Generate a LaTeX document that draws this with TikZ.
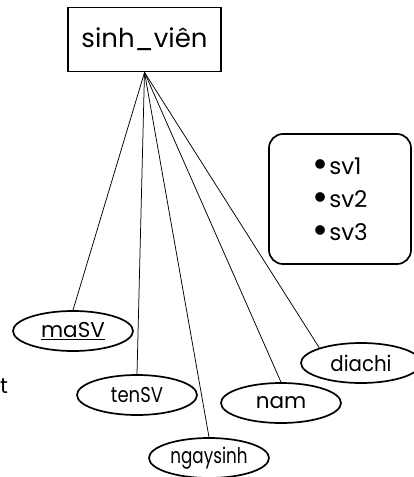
\documentclass[tikz,border=0pt]{standalone}
\usepackage{fontspec}
\setmainfont{Poppins}
\usetikzlibrary{shapes.geometric}
\tikzset{
  entity/.style={draw, line width=1.8pt, minimum width=153pt, minimum height=64pt, inner sep=0pt, font=\fontsize{26}{29}\selectfont},
  attr/.style={draw, ellipse, line width=1.7pt, minimum width=120pt, minimum height=40pt, inner sep=0pt, font=\fontsize{21.5}{24}\selectfont},
  inst/.style={draw, rounded corners=14pt, line width=1.7pt, minimum width=142pt, minimum height=130pt, inner sep=0pt, align=left, font=\fontsize{23}{33}\selectfont},
  link/.style={line width=0.75pt}
}
\newcommand{\blt}{\smash{\raisebox{-0.14em}{\scalebox{1.7}{•}}}\hspace{1pt}}
\begin{document}
\begin{tikzpicture}[x=1pt,y=-1pt]
\useasboundingbox (0,0) rectangle (413,477);
\node[entity] (sv) at (144.5,39.5) {sinh\_viên};
\node[inst] (ds) at (340,199) {\blt sv1\\\blt sv2\\\blt sv3};
\node[attr] (masv) at (73,331) {\underline{maSV}};
\node[attr] (tensv) at (137,395) {\scalebox{0.84}[1]{tenSV}};
\node[attr] (ngaysinh) at (209,458) {\scalebox{0.78}[1]{ngaysinh}};
\node[attr] (nam) at (281,403) {nam};
\node[attr] (diachi) at (361,363) {\scalebox{0.92}[1]{diachi}};
\node[anchor=west, inner sep=0pt, font=\fontsize{21.5}{24}\selectfont] (t) at (0,386) {t};
\draw[link] (sv.south) -- (masv.north);
\draw[link] (sv.south) -- (tensv.north);
\draw[link] (sv.south) -- (ngaysinh.north);
\draw[link] (sv.south) -- (nam.north);
\draw[link] (sv.south) -- (diachi.160);
\end{tikzpicture}
\end{document}
